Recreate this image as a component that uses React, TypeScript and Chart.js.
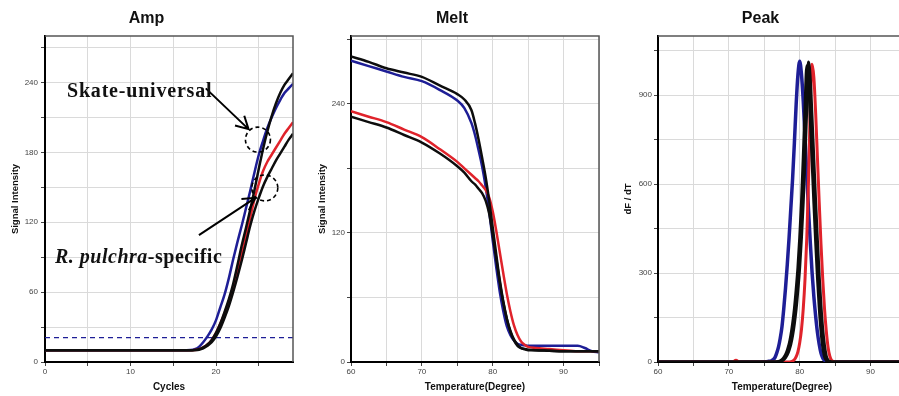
import React, { useEffect, useRef } from 'react';
import { Chart, registerables } from 'chart.js';

Chart.register(...registerables);

const FONT = '"Liberation Sans", Arial, sans-serif';
const BLUE = '#1e1e96';
const RED = '#e0232b';
const BLACK = '#0d0d0d';

// ---------- Amp panel ----------
const ampCycles = [0, 5, 10, 15, 16, 17, 17.5, 18, 18.5, 19, 19.5, 20, 20.5, 21, 21.5, 22, 22.5, 23, 23.5, 24, 24.5, 25, 25.5, 26, 26.5, 27, 27.5, 28, 28.5, 29];
const ampBlue = [10, 10, 10, 10, 10, 10.3, 11, 13, 17, 22, 28, 36, 47, 58, 72, 88, 103, 117, 132, 147, 163, 178, 190, 201, 210, 218, 225, 231, 235, 239];
const ampBlackUpper = [10, 10, 10, 10, 10, 10, 10.3, 11, 12.5, 15, 19, 25, 33, 43, 54, 67, 83, 100, 115, 131, 148, 166, 183, 198, 211, 222, 231, 238, 243, 248];
const ampRed = [10, 10, 10, 10, 10, 10, 10.3, 11, 12.5, 15, 19, 25, 33, 42, 52, 64, 78, 93, 108, 124, 140, 153, 164, 172, 178, 184, 190, 196, 201, 206];
const ampBlackLower = [10, 10, 10, 10, 10, 10, 10.2, 10.6, 11.8, 14, 17, 22, 29, 38, 48, 60, 73, 87, 102, 117, 130, 141, 151, 159, 166, 173, 179, 185, 191, 196];
const ampThreshold = 21;
const ampXGrid = [0, 5, 10, 15, 20, 25];
const ampXLabels = [0, 10, 20];
const ampYGrid = [0, 30, 60, 90, 120, 150, 180, 210, 240, 270];
const ampYLabels = [0, 60, 120, 180, 240];

// ---------- Melt panel ----------
const meltTemps = [60, 62.5, 65, 67.5, 70, 72.5, 75, 76, 77, 77.5, 78, 78.5, 79, 79.5, 80, 80.5, 81, 81.5, 82, 82.5, 83, 83.5, 84, 84.5, 85, 86, 88, 90, 91, 92, 93, 94, 95];
const meltBlackUpper = [284, 279, 273, 269, 265, 257, 249, 244, 234, 222, 207, 190, 172, 150, 125, 100, 76, 56, 40, 28, 20, 15, 13, 12, 11, 11, 10.5, 10, 10, 10, 10, 10, 10];
const meltBlue = [280, 275, 270, 265, 261, 253, 243, 236, 222, 211, 197, 182, 163, 140, 113, 88, 65, 47, 33, 25, 20, 17, 16, 15.5, 15, 15, 15, 15, 15, 15, 13, 10, 9];
const meltRed = [233, 228, 223, 216, 209, 198, 186, 180, 174, 171, 168, 164, 160, 153, 140, 122, 102, 82, 63, 47, 34, 25, 19, 16, 14, 13, 12, 11, 10.5, 10, 10, 10, 10];
const meltBlackLower = [228, 223, 218, 211, 204, 194, 182, 176, 168, 165, 161, 157, 150, 138, 118, 96, 74, 55, 40, 29, 21, 16, 13, 12, 11.5, 11, 10.5, 10, 10, 10, 10, 10, 10];
const meltXGrid = [60, 65, 70, 75, 80, 85, 90, 95];
const meltXLabels = [60, 70, 80, 90];
const meltYGrid = [0, 60, 120, 180, 240, 300];
const meltYLabels = [0, 120, 240];

// ---------- Peak panel ----------
const peakTemps = [60, 65, 70, 70.5, 71, 71.5, 72, 74, 75, 75.5,
  76, 76.25, 76.5, 76.75, 77, 77.25, 77.5, 77.75, 78, 78.25, 78.5, 78.75, 79, 79.25, 79.5, 79.75,
  80, 80.25, 80.5, 80.75, 81, 81.25, 81.5, 81.75, 82, 82.25, 82.5, 82.75, 83, 83.25, 83.5, 83.75,
  84, 84.25, 84.5, 84.75, 85, 85.5, 86, 88, 90, 95];
const peakBlue = [0, 0, 0, 0, 0, 0, 0, 0, 1, 2,
  4, 8, 15, 30, 50, 80, 120, 180, 250, 330, 420, 520, 620, 740, 870, 970,
  1015, 970, 880, 760, 630, 510, 400, 300, 220, 155, 100, 60, 30, 14, 6, 2,
  0, 0, 0, 0, 0, 0, 0, 0, 0, 0];
const peakBlackA = [0, 0, 0, 0, 0, 0, 0, 0, 0, 0,
  0, 0, 0, 0, 1, 2, 4, 8, 15, 25, 40, 60, 90, 130, 180, 245,
  320, 420, 540, 690, 860, 1012, 950, 820, 680, 540, 410, 290, 190, 110, 55, 20,
  6, 2, 0, 0, 0, 0, 0, 0, 0, 0];
const peakBlackB = [0, 0, 0, 0, 0, 0, 0, 0, 0, 0,
  0, 0, 0, 1, 2, 4, 8, 15, 25, 40, 60, 90, 130, 180, 245, 320,
  420, 540, 690, 860, 1000, 945, 815, 675, 535, 405, 285, 185, 105, 50, 18, 5,
  1, 0, 0, 0, 0, 0, 0, 0, 0, 0];
const peakRed = [0, 0, 0, 0, 6, 0, 0, 0, 0, 0,
  0, 0, 0, 0, 0, 0, 0, 0, 0, 0, 0, 1, 3, 8, 18, 35,
  65, 110, 180, 280, 420, 620, 870, 1005, 960, 840, 690, 540, 400, 280, 180, 105,
  50, 20, 6, 2, 0, 0, 0, 0, 0, 0];
const peakXGrid = [60, 65, 70, 75, 80, 85, 90, 95];
const peakXLabels = [60, 70, 80, 90];
const peakYGrid = [0, 150, 300, 450, 600, 750, 900, 1050];
const peakYLabels = [0, 300, 600, 900];

const pts = (xs: number[], ys: number[]) => xs.map((x, i) => ({ x, y: ys[i] }));

const line = (data: any, color: string, width = 2.5) => ({
  data,
  borderColor: color,
  backgroundColor: color,
  borderWidth: width,
  pointRadius: 0,
  fill: false,
  cubicInterpolationMode: 'monotone',
});

const framePlugin = {
  id: 'frame',
  afterDatasetsDraw(chart: any) {
    const { ctx, chartArea: a } = chart;
    ctx.save();
    ctx.strokeStyle = '#555';
    ctx.lineWidth = 1.5;
    ctx.beginPath();
    ctx.moveTo(a.left, a.top);
    ctx.lineTo(a.right, a.top);
    ctx.lineTo(a.right, a.bottom);
    ctx.stroke();
    ctx.restore();
  },
};

function drawArrow(ctx: CanvasRenderingContext2D, x1: number, y1: number, x2: number, y2: number) {
  const ang = Math.atan2(y2 - y1, x2 - x1);
  const head = 14;
  const spread = 0.5;
  ctx.beginPath();
  ctx.moveTo(x1, y1);
  ctx.lineTo(x2, y2);
  ctx.moveTo(x2 - head * Math.cos(ang - spread), y2 - head * Math.sin(ang - spread));
  ctx.lineTo(x2, y2);
  ctx.lineTo(x2 - head * Math.cos(ang + spread), y2 - head * Math.sin(ang + spread));
  ctx.stroke();
}

const ampNotesPlugin = {
  id: 'ampNotes',
  afterDatasetsDraw(chart: any) {
    const { ctx } = chart;
    const xs = chart.scales.x;
    const ys = chart.scales.y;
    const px = (c: number) => xs.getPixelForValue(c);
    const py = (v: number) => ys.getPixelForValue(v);
    ctx.save();
    ctx.strokeStyle = '#000';
    ctx.lineWidth = 2;
    ctx.setLineDash([]);
    drawArrow(ctx, px(18.8), py(235), px(23.8), py(200));
    drawArrow(ctx, px(18.0), py(109), px(24.6), py(141));
    ctx.setLineDash([4, 3]);
    ctx.lineWidth = 1.6;
    ctx.beginPath();
    ctx.arc(px(24.9), py(191), 12.5, 0, Math.PI * 2);
    ctx.stroke();
    ctx.beginPath();
    ctx.arc(px(25.7), py(149.5), 13, 0, Math.PI * 2);
    ctx.stroke();
    ctx.restore();
  },
};

type Cfg = {
  title: string;
  xTitle: string;
  yTitle: string;
  xMin: number; xMax: number; yMin: number; yMax: number;
  xGrid: number[]; xLabels: number[]; yGrid: number[]; yLabels: number[];
  yWidth: number; padRight: number; yTitlePad: number; yTickPad: number;
};

function buildOptions(o: Cfg): any {
  return {
    responsive: false,
    animation: false,
    devicePixelRatio: 1,
    layout: { padding: { left: 0, right: o.padRight, top: 0, bottom: 0 } },
    plugins: {
      legend: { display: false },
      tooltip: { enabled: false },
      title: {
        display: true,
        text: o.title,
        color: '#111',
        font: { family: FONT, size: 16, weight: 'bold', lineHeight: 1.2 },
        padding: { top: 9, bottom: 7.8 },
      },
    },
    scales: {
      x: {
        type: 'linear',
        min: o.xMin,
        max: o.xMax,
        afterBuildTicks: (s: any) => { s.ticks = o.xGrid.map((v) => ({ value: v })); },
        afterFit: (s: any) => { s.height = 34; },
        grid: { color: '#dadada', lineWidth: 1, drawTicks: true, tickLength: 4, tickColor: '#444' },
        border: { color: '#000', width: 2 },
        ticks: {
          padding: 1, color: '#444', autoSkip: false, maxRotation: 0,
          font: { family: FONT, size: 8 },
          callback: (v: any) => (o.xLabels.includes(Number(v)) ? String(v) : ''),
        },
        title: {
          display: true, text: o.xTitle, color: '#111',
          font: { family: FONT, size: 10, weight: 'bold', lineHeight: 1.2 },
          padding: { top: 0, bottom: 3 },
        },
      },
      y: {
        type: 'linear',
        min: o.yMin,
        max: o.yMax,
        afterBuildTicks: (s: any) => { s.ticks = o.yGrid.map((v) => ({ value: v })); },
        afterFit: (s: any) => { s.width = o.yWidth; },
        grid: { color: '#dadada', lineWidth: 1, drawTicks: true, tickLength: 4, tickColor: '#444' },
        border: { color: '#000', width: 2 },
        ticks: {
          padding: o.yTickPad, color: '#444', autoSkip: false,
          font: { family: FONT, size: 8 },
          callback: (v: any) => (o.yLabels.includes(Number(v)) ? String(v) : ''),
        },
        title: {
          display: true, text: o.yTitle, color: '#111',
          font: { family: FONT, size: 9.5, weight: 'bold', lineHeight: 1.2 },
          padding: { top: o.yTitlePad, bottom: 0 },
        },
      },
    },
  };
}

export default function App() {
  const ampRef = useRef<HTMLCanvasElement>(null);
  const meltRef = useRef<HTMLCanvasElement>(null);
  const peakRef = useRef<HTMLCanvasElement>(null);

  useEffect(() => {
    const charts: Chart[] = [];

    charts.push(new Chart(ampRef.current as HTMLCanvasElement, {
      type: 'line',
      data: {
        datasets: [
          line(pts(ampCycles, ampBlackUpper), BLACK),
          line(pts(ampCycles, ampBlackLower), BLACK),
          line(pts(ampCycles, ampRed), RED),
          line(pts(ampCycles, ampBlue), BLUE),
          {
            data: [{ x: 0, y: ampThreshold }, { x: 29, y: ampThreshold }],
            borderColor: BLUE, borderWidth: 1.3, borderDash: [5, 4], pointRadius: 0, fill: false,
          },
        ] as any,
      },
      options: buildOptions({
        title: 'Amp', xTitle: 'Cycles', yTitle: 'Signal Intensity',
        xMin: 0, xMax: 29, yMin: 0, yMax: 280,
        xGrid: ampXGrid, xLabels: ampXLabels, yGrid: ampYGrid, yLabels: ampYLabels,
        yWidth: 45, padRight: 37, yTitlePad: 9.3, yTickPad: 3,
      }),
      plugins: [framePlugin, ampNotesPlugin],
    }));

    charts.push(new Chart(meltRef.current as HTMLCanvasElement, {
      type: 'line',
      data: {
        datasets: [
          line(pts(meltTemps, meltBlackUpper), BLACK),
          line(pts(meltTemps, meltBlackLower), BLACK),
          line(pts(meltTemps, meltRed), RED),
          line(pts(meltTemps, meltBlue), BLUE),
        ] as any,
      },
      options: buildOptions({
        title: 'Melt', xTitle: 'Temperature(Degree)', yTitle: 'Signal Intensity',
        xMin: 60, xMax: 95, yMin: 0, yMax: 303,
        xGrid: meltXGrid, xLabels: meltXLabels, yGrid: meltYGrid, yLabels: meltYLabels,
        yWidth: 46, padRight: 36, yTitlePad: 11.3, yTickPad: 2,
      }),
      plugins: [framePlugin],
    }));

    charts.push(new Chart(peakRef.current as HTMLCanvasElement, {
      type: 'line',
      data: {
        datasets: [
          line(pts(peakTemps, peakBlackA), BLACK, 3),
          line(pts(peakTemps, peakBlackB), BLACK, 3),
          line(pts(peakTemps, peakRed), RED, 3),
          line(pts(peakTemps, peakBlue), BLUE, 3.5),
        ] as any,
      },
      options: buildOptions({
        title: 'Peak', xTitle: 'Temperature(Degree)', yTitle: 'dF / dT',
        xMin: 60, xMax: 95, yMin: 0, yMax: 1100,
        xGrid: peakXGrid, xLabels: peakXLabels, yGrid: peakYGrid, yLabels: peakYLabels,
        yWidth: 43, padRight: 33, yTitlePad: 7.3, yTickPad: 2,
      }),
      plugins: [framePlugin],
    }));

    return () => charts.forEach((c) => c.destroy());
  }, []);

  const noteStyle: React.CSSProperties = {
    position: 'absolute',
    font: 'bold 20px "Liberation Serif", "Times New Roman", serif',
    lineHeight: '20px',
    whiteSpace: 'nowrap',
    color: '#111',
  };

  return (
    <div style={{ position: 'fixed', left: 0, top: 0, width: 899, height: 396, overflow: 'hidden', background: '#fff' }}>
      <canvas ref={ampRef} width={330} height={396} style={{ position: 'absolute', left: 0, top: 0, width: 330, height: 396 }} />
      <canvas ref={meltRef} width={330} height={396} style={{ position: 'absolute', left: 305, top: 0, width: 330, height: 396 }} />
      <canvas ref={peakRef} width={324} height={396} style={{ position: 'absolute', left: 615, top: 0, width: 324, height: 396 }} />
      <div style={{ ...noteStyle, left: 67, top: 80, letterSpacing: '0.8px' }}>Skate-universal</div>
      <div style={{ ...noteStyle, left: 55, top: 246, letterSpacing: '0.5px' }}>
        <i>R. pulchra</i>-specific
      </div>
    </div>
  );
}
